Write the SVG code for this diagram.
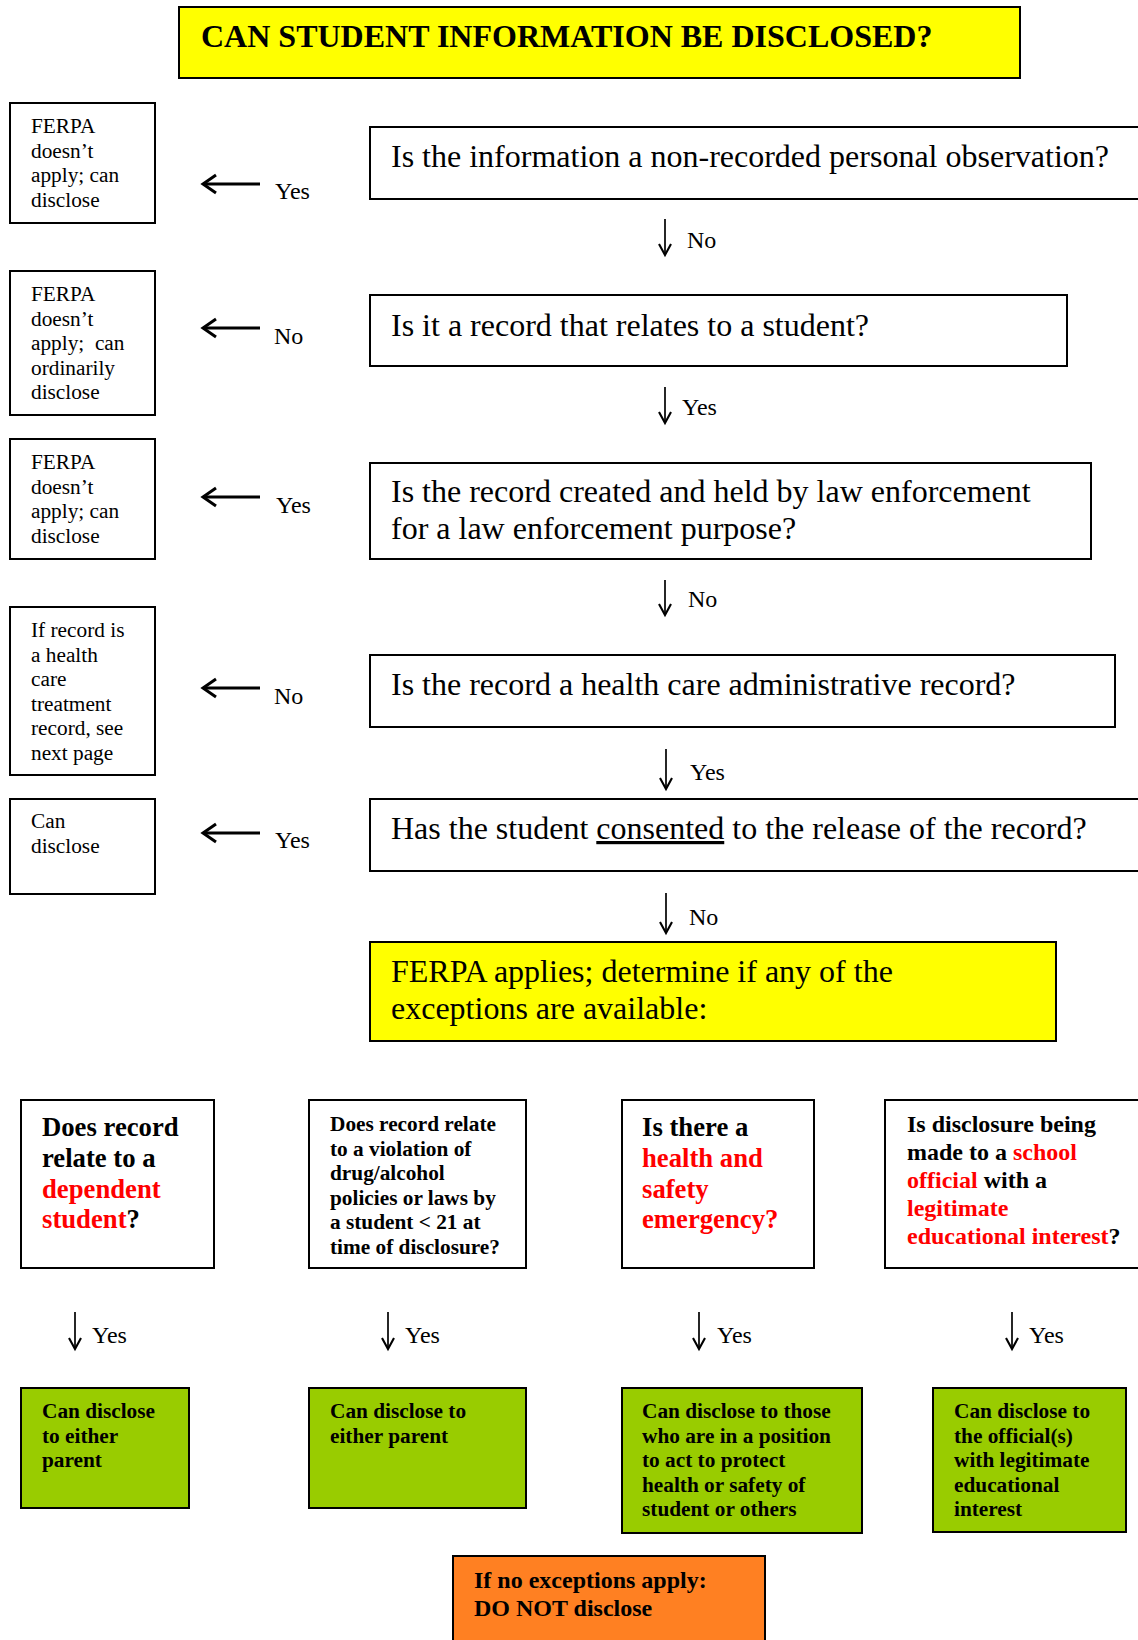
<svg xmlns="http://www.w3.org/2000/svg" width="1138" height="1640" viewBox="0 0 1138 1640">
<style>
  text { font-family: "Liberation Serif", "Times New Roman", serif; fill: #000; }
  .box { fill: #fff; stroke: #000; stroke-width: 2; }
  .yel { fill: #FFFF00; stroke: #000; stroke-width: 2; }
  .grn { fill: #99CC00; stroke: #000; stroke-width: 2; }
  .org { fill: #FF8022; stroke: #000; stroke-width: 2; }
  .s21 { font-size: 21.3px; }
  .s24 { font-size: 24px; }
  .s27 { font-size: 26.7px; }
  .q { font-size: 32px; }
  .b { font-weight: bold; }
  .red { fill: #FF0000; }
  .ttl { font-size: 32px; font-weight: bold; }
  .ld { fill: none; stroke: #000; stroke-width: 1.7; marker-end: url(#hd); }
  .ll { fill: none; stroke: #000; stroke-width: 3; marker-end: url(#hl); }
</style>
<defs>
  <marker id="hd" viewBox="-14 -8 18 16" refX="0" refY="0" markerWidth="18" markerHeight="16" markerUnits="userSpaceOnUse" orient="auto">
    <path d="M-11,-6 L0,0 L-11,6" fill="none" stroke="#000" stroke-width="2.1"/>
  </marker>
  <marker id="hl" viewBox="-16 -11 22 22" refX="0" refY="0" markerWidth="22" markerHeight="22" markerUnits="userSpaceOnUse" orient="auto">
    <path d="M-13,-9 L0,0 L-13,9" fill="none" stroke="#000" stroke-width="3"/>
  </marker>
</defs>

<g id="title">
  <rect class="yel" x="179" y="7" width="841" height="71"/>
  <text class="ttl" x="201" y="47">CAN STUDENT INFORMATION BE DISCLOSED?</text>
</g>

<g id="q1">
  <rect class="box" x="370" y="127" width="790" height="72"/>
  <text class="q" x="391" y="167">Is the information a non-recorded personal observation?</text>
</g>
<g id="q2">
  <rect class="box" x="370" y="295" width="697" height="71"/>
  <text class="q" x="391" y="336">Is it a record that relates to a student?</text>
</g>
<g id="q3">
  <rect class="box" x="370" y="463" width="721" height="96"/>
  <text class="q"><tspan x="391" y="502">Is the record created and held by law enforcement</tspan><tspan x="391" y="539">for a law enforcement purpose?</tspan></text>
</g>
<g id="q4">
  <rect class="box" x="370" y="655" width="745" height="72"/>
  <text class="q" x="391" y="695">Is the record a health care administrative record?</text>
</g>
<g id="q5">
  <rect class="box" x="370" y="799" width="790" height="72"/>
  <text class="q" x="391" y="839">Has the student <tspan style="text-decoration:underline">consented</tspan> to the release of the record?</text>
</g>
<g id="ferpa-applies">
  <rect class="yel" x="370" y="942" width="686" height="99"/>
  <text class="q"><tspan x="391" y="982">FERPA applies; determine if any of the</tspan><tspan x="391" y="1019">exceptions are available:</tspan></text>
</g>

<g id="a1">
  <rect class="box" x="10" y="103" width="145" height="120"/>
  <text class="s21"><tspan x="31" y="133">FERPA</tspan><tspan x="31" y="157.5">doesn’t</tspan><tspan x="31" y="182">apply; can</tspan><tspan x="31" y="206.5">disclose</tspan></text>
</g>
<g id="a2">
  <rect class="box" x="10" y="271" width="145" height="144"/>
  <text class="s21"><tspan x="31" y="301">FERPA</tspan><tspan x="31" y="325.5">doesn’t</tspan><tspan x="31" y="350">apply;&#160; can</tspan><tspan x="31" y="374.5">ordinarily</tspan><tspan x="31" y="399">disclose</tspan></text>
</g>
<g id="a3">
  <rect class="box" x="10" y="439" width="145" height="120"/>
  <text class="s21"><tspan x="31" y="469">FERPA</tspan><tspan x="31" y="493.5">doesn’t</tspan><tspan x="31" y="518">apply; can</tspan><tspan x="31" y="542.5">disclose</tspan></text>
</g>
<g id="a4">
  <rect class="box" x="10" y="607" width="145" height="168"/>
  <text class="s21"><tspan x="31" y="637">If record is</tspan><tspan x="31" y="661.5">a health</tspan><tspan x="31" y="686">care</tspan><tspan x="31" y="710.5">treatment</tspan><tspan x="31" y="735">record, see</tspan><tspan x="31" y="759.5">next page</tspan></text>
</g>
<g id="a5">
  <rect class="box" x="10" y="799" width="145" height="95"/>
  <text class="s21"><tspan x="31" y="828">Can</tspan><tspan x="31" y="852.5">disclose</tspan></text>
</g>

<g id="e1">
  <rect class="box" x="21" y="1100" width="193" height="168"/>
  <text class="s27 b"><tspan x="42" y="1136">Does record</tspan><tspan x="42" y="1167">relate to a</tspan><tspan x="42" y="1198" class="red">dependent</tspan><tspan x="42" y="1228"><tspan class="red">student</tspan>?</tspan></text>
</g>
<g id="e2">
  <rect class="box" x="309" y="1100" width="217" height="168"/>
  <text class="s21 b"><tspan x="330" y="1131">Does record relate</tspan><tspan x="330" y="1155.5">to a violation of</tspan><tspan x="330" y="1180">drug/alcohol</tspan><tspan x="330" y="1204.5">policies or laws by</tspan><tspan x="330" y="1229">a student &lt; 21 at</tspan><tspan x="330" y="1253.5">time of disclosure?</tspan></text>
</g>
<g id="e3">
  <rect class="box" x="622" y="1100" width="192" height="168"/>
  <text class="s27 b"><tspan x="642" y="1136">Is there a</tspan><tspan x="642" y="1167" class="red">health and</tspan><tspan x="642" y="1198" class="red">safety</tspan><tspan x="642" y="1228" class="red">emergency?</tspan></text>
</g>
<g id="e4">
  <rect class="box" x="885" y="1100" width="270" height="168"/>
  <text class="s24 b"><tspan x="907" y="1132">Is disclosure being</tspan><tspan x="907" y="1160">made to a <tspan class="red">school</tspan></tspan><tspan x="907" y="1188"><tspan class="red">official</tspan> with a</tspan><tspan x="907" y="1216" class="red">legitimate</tspan><tspan x="907" y="1244"><tspan class="red">educational interest</tspan>?</tspan></text>
</g>

<g id="r1">
  <rect class="grn" x="21" y="1388" width="168" height="120"/>
  <text class="s21 b"><tspan x="42" y="1418">Can disclose</tspan><tspan x="42" y="1442.5">to either</tspan><tspan x="42" y="1467">parent</tspan></text>
</g>
<g id="r2">
  <rect class="grn" x="309" y="1388" width="217" height="120"/>
  <text class="s21 b"><tspan x="330" y="1418">Can disclose to</tspan><tspan x="330" y="1442.5">either parent</tspan></text>
</g>
<g id="r3">
  <rect class="grn" x="622" y="1388" width="240" height="145"/>
  <text class="s21 b"><tspan x="642" y="1418">Can disclose to those</tspan><tspan x="642" y="1442.5">who are in a position</tspan><tspan x="642" y="1467">to act to protect</tspan><tspan x="642" y="1491.5">health or safety of</tspan><tspan x="642" y="1516">student or others</tspan></text>
</g>
<g id="r4">
  <rect class="grn" x="933" y="1388" width="193" height="144"/>
  <text class="s21 b"><tspan x="954" y="1418">Can disclose to</tspan><tspan x="954" y="1442.5">the official(s)</tspan><tspan x="954" y="1467">with legitimate</tspan><tspan x="954" y="1491.5">educational</tspan><tspan x="954" y="1516">interest</tspan></text>
</g>
<g id="no-exceptions">
  <rect class="org" x="453" y="1556" width="312" height="100"/>
  <text class="s24 b"><tspan x="474" y="1588">If no exceptions apply:</tspan><tspan x="474" y="1616">DO NOT disclose</tspan></text>
</g>

<g id="connectors">
  <path class="ll" d="M260,184 H203"/>
  <text class="s24" x="275" y="199">Yes</text>
  <path class="ll" d="M260,328 H203"/>
  <text class="s24" x="274" y="344">No</text>
  <path class="ll" d="M260,497 H203"/>
  <text class="s24" x="276" y="513">Yes</text>
  <path class="ll" d="M260,688 H203"/>
  <text class="s24" x="274" y="704">No</text>
  <path class="ll" d="M260,833 H203"/>
  <text class="s24" x="275" y="848">Yes</text>

  <path class="ld" d="M665,219 V255"/>
  <text class="s24" x="687" y="248">No</text>
  <path class="ld" d="M665,387 V423"/>
  <text class="s24" x="682" y="415">Yes</text>
  <path class="ld" d="M665,580 V615"/>
  <text class="s24" x="688" y="607">No</text>
  <path class="ld" d="M666,749 V789"/>
  <text class="s24" x="690" y="780">Yes</text>
  <path class="ld" d="M666,893 V933"/>
  <text class="s24" x="689" y="925">No</text>

  <path class="ld" d="M75,1312 V1349"/>
  <text class="s24" x="92" y="1343">Yes</text>
  <path class="ld" d="M388,1312 V1349"/>
  <text class="s24" x="405" y="1343">Yes</text>
  <path class="ld" d="M699,1312 V1349"/>
  <text class="s24" x="717" y="1343">Yes</text>
  <path class="ld" d="M1012,1312 V1349"/>
  <text class="s24" x="1029" y="1343">Yes</text>
</g>
</svg>
